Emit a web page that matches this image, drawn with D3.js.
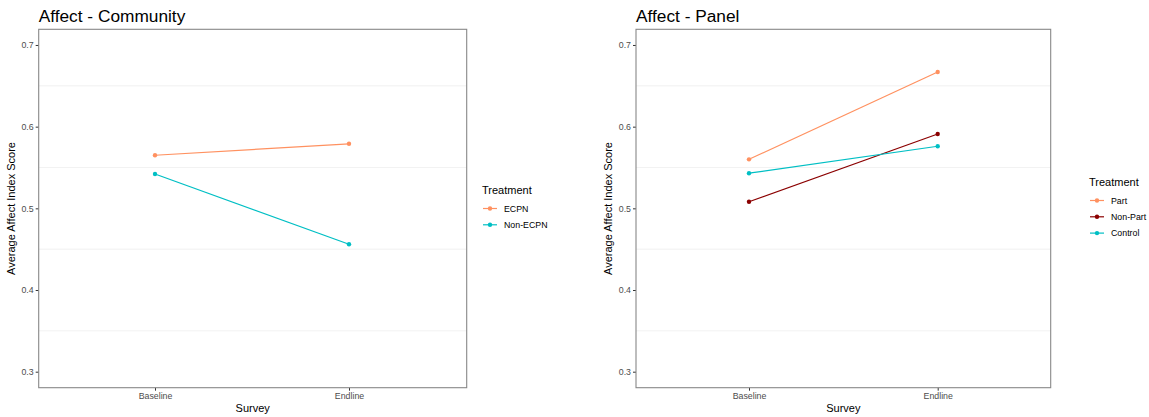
<!DOCTYPE html>
<html><head><meta charset="utf-8">
<script src="https://cdn.jsdelivr.net/npm/d3@7"></script>
<style>body{margin:0;background:#fff;}svg{display:block;font-family:"Liberation Sans",Arial,sans-serif;}</style>
</head><body><svg id="c" width="1149" height="417"></svg>
<script>
const surveys = ["Baseline", "Endline"];
const yTicks = [0.3, 0.4, 0.5, 0.6, 0.7];
const minorGrid = [0.35, 0.45, 0.55, 0.65];
const communitySeries = ["ECPN", "Non-ECPN"];
const communityECPN = [0.565, 0.579];
const communityNonECPN = [0.542, 0.456];
const panelSeries = ["Part", "Non-Part", "Control"];
const panelPart = [0.560, 0.667];
const panelNonPart = [0.508, 0.591];
const panelControl = [0.543, 0.576];
const colors = {"ECPN":"#FF9160","Non-ECPN":"#00BFC4","Part":"#FF9160","Non-Part":"#8B0000","Control":"#00BFC4"};

const svg = d3.select("#c");

function drawPanel(cfg){
  const g = svg.append("g");
  const y = d3.scaleLinear().domain([0.2804, 0.7192]).range([cfg.bottom, cfg.top]);
  const x = d3.scalePoint().domain(surveys).range([cfg.xb, cfg.xe]);
  g.append("rect").attr("x",cfg.left).attr("y",cfg.top).attr("width",cfg.right-cfg.left).attr("height",cfg.bottom-cfg.top).attr("fill","#fff");
  g.selectAll(".mg").data(minorGrid).enter().append("line")
    .attr("x1",cfg.left).attr("x2",cfg.right).attr("y1",d=>y(d)).attr("y2",d=>y(d))
    .attr("stroke","#ebebeb").attr("stroke-width",0.7);
  const ya = g.append("g").attr("transform",`translate(${cfg.left},0)`)
    .call(d3.axisLeft(y).tickValues(yTicks).tickFormat(d3.format(".1f")).tickSize(3).tickPadding(2));
  ya.select(".domain").remove();
  ya.selectAll("line").attr("stroke","#333");
  ya.selectAll("text").attr("fill","#4d4d4d").style("font-size","8.8px");
  const xa = g.append("g").attr("transform",`translate(0,${cfg.bottom})`)
    .call(d3.axisBottom(x).tickSize(3).tickPadding(2));
  xa.select(".domain").remove();
  xa.selectAll("line").attr("stroke","#333");
  xa.selectAll("text").attr("fill","#4d4d4d").style("font-size","8.8px");
  const line = d3.line().x((d,i)=>x(surveys[i])).y(d=>y(d));
  cfg.series.forEach((s,k)=>{
    g.append("path").datum(cfg.values[k]).attr("d",line).attr("fill","none")
      .attr("stroke",colors[s]).attr("stroke-width",1.2);
    g.selectAll(null).data(cfg.values[k]).enter().append("circle")
      .attr("cx",(d,i)=>x(surveys[i])).attr("cy",d=>y(d)).attr("r",2.2).attr("fill",colors[s]);
  });
  g.append("rect").attr("x",cfg.left).attr("y",cfg.top).attr("width",cfg.right-cfg.left).attr("height",cfg.bottom-cfg.top)
    .attr("fill","none").attr("stroke","#888").attr("stroke-width",1.1);
  g.append("text").attr("x",cfg.left).attr("y",cfg.top-7).text(cfg.title).style("font-size","17.3px").attr("fill","#000");
  g.append("text").attr("x",(cfg.left+cfg.right)/2).attr("y",412).attr("text-anchor","middle").text("Survey").style("font-size","11px");
  g.append("text").attr("transform",`translate(${cfg.left-24},${(cfg.top+cfg.bottom)/2}) rotate(-90)`).attr("text-anchor","middle")
    .text("Average Affect Index Score").style("font-size","11px");
  const lg = g.append("g").attr("transform",`translate(${cfg.legX},${cfg.legY})`);
  lg.append("text").attr("x",0).attr("y",0).text("Treatment").style("font-size","11px");
  cfg.series.forEach((s,k)=>{
    const yy = 14.5 + k*16.3;
    lg.append("line").attr("x1",1).attr("x2",15).attr("y1",yy).attr("y2",yy).attr("stroke",colors[s]).attr("stroke-width",1.2);
    lg.append("circle").attr("cx",8).attr("cy",yy).attr("r",2.2).attr("fill",colors[s]);
    lg.append("text").attr("x",22).attr("y",yy+3).text(s).style("font-size","8.8px").attr("fill","#000");
  });
}

drawPanel({title:"Affect - Community", left:38.7, right:466.7, top:29.3, bottom:387.7, xb:155, xe:349,
  series:communitySeries, values:[communityECPN, communityNonECPN], legX:482, legY:194});
drawPanel({title:"Affect - Panel", left:636, right:1050.7, top:29.3, bottom:387.7, xb:749, xe:937.7,
  series:panelSeries, values:[panelPart, panelNonPart, panelControl], legX:1089, legY:186});
</script></body></html>
